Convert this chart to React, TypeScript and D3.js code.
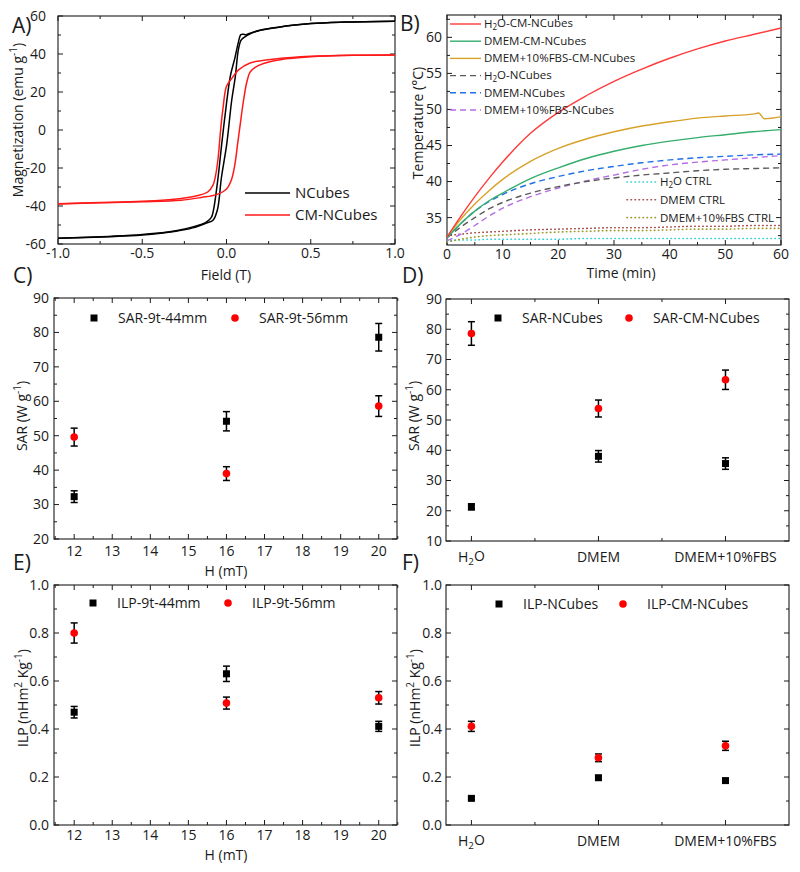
import React from 'react';
import * as d3 from 'd3';

const FONT = '"Open Sans", "DejaVu Sans", sans-serif';
const INK = '#1a1a1a';

// ---- A) hysteresis loops, [field (T), magnetization (emu/g)]
const ncubesDown: [number, number][] = [
  [1, 57.3], [0.7, 56.8], [0.5, 56], [0.3, 54], [0.2, 52.5], [0.14, 51], [0.115, 50.1], [0.1, 50.4],
  [0.085, 50.2], [0.07, 46], [0.05, 38], [0.022, 28], [0, 14], [-0.028, -7], [-0.05, -25],
  [-0.077, -42], [-0.09, -46], [-0.12, -48.5], [-0.2, -51], [-0.3, -53], [-0.5, -55], [-0.7, -56], [-1, -57],
];
const ncubesUp: [number, number][] = [
  [-1, -57], [-0.7, -56.2], [-0.5, -55.3], [-0.3, -53.3], [-0.2, -51.5], [-0.12, -49], [-0.08, -47.5],
  [-0.054, -42], [-0.03, -25], [0.002, -7], [0.03, 15], [0.052, 28], [0.07, 42], [0.085, 47],
  [0.1, 48.5], [0.15, 51], [0.2, 52.5], [0.3, 54], [0.5, 56], [0.7, 56.8], [1, 57.3],
];
const cmDown: [number, number][] = [
  [1, 39.5], [0.75, 39.4], [0.5, 38.8], [0.3, 37.5], [0.14, 35.3], [0.07, 31.5], [0.03, 27], [0, 23],
  [-0.02, 12], [-0.035, 0], [-0.05, -15], [-0.065, -24], [-0.08, -29], [-0.11, -32.5], [-0.17, -34.5],
  [-0.27, -36], [-0.5, -37.5], [-0.75, -38.2], [-1, -38.8],
];
const cmUp: [number, number][] = [
  [-1, -39], [-0.75, -38.3], [-0.5, -37.8], [-0.27, -37], [-0.15, -35.5], [-0.06, -34], [0, -31],
  [0.03, -26], [0.05, -18], [0.065, -8], [0.08, 2], [0.1, 15], [0.12, 25], [0.14, 30.5], [0.17, 33],
  [0.22, 35], [0.32, 37], [0.5, 38.5], [0.75, 39.3], [1, 39.5],
];

// ---- B) heating curves, temperature (°C) vs time (min)
const heatTime = [0, 2.5, 5, 7.5, 10, 15, 20, 25, 30, 35, 40, 45, 50, 55, 60];
const goldTime = [0, 2.5, 5, 7.5, 10, 15, 20, 25, 30, 35, 40, 45, 50, 55, 56, 57, 60];
const h2oCM = [32.3, 35.2, 37.9, 40.4, 42.7, 46.7, 49.6, 51.9, 53.9, 55.6, 57.1, 58.4, 59.5, 60.4, 61.3];
const dmemCM = [32.2, 34.2, 35.9, 37.3, 38.4, 40.4, 41.9, 43.2, 44.2, 45.0, 45.6, 46.1, 46.5, 46.9, 47.2];
const fbsCM = [32.3, 34.8, 36.9, 38.7, 40.3, 42.8, 44.6, 45.9, 46.9, 47.7, 48.3, 48.8, 49.1, 49.35, 49.5, 48.7, 49.0];
const h2oN = [32.2, 33.7, 35.0, 36.2, 37.1, 38.4, 39.3, 40.0, 40.5, 40.9, 41.2, 41.5, 41.7, 41.8, 41.9];
const dmemN = [32.2, 34.2, 35.9, 37.2, 38.2, 39.7, 40.7, 41.5, 42.1, 42.6, 43.0, 43.3, 43.5, 43.7, 43.8];
const fbsN = [31.8, 32.7, 33.9, 35.2, 36.3, 37.9, 39.1, 40.1, 40.9, 41.7, 42.3, 42.7, 43.0, 43.3, 43.6];
const h2oCtrl = [31.8, 31.9, 31.9, 32.0, 32.0, 32.0, 32.0, 32.1, 32.1, 32.1, 32.1, 32.1, 32.1, 32.1, 32.1];
const dmemCtrl = [32.5, 32.7, 32.9, 33.0, 33.1, 33.3, 33.4, 33.5, 33.6, 33.6, 33.7, 33.8, 33.8, 33.9, 33.9];
const fbsCtrl = [31.6, 32.0, 32.3, 32.5, 32.6, 32.8, 33.0, 33.1, 33.2, 33.2, 33.3, 33.4, 33.4, 33.5, 33.5];

// ---- C, E) vs field amplitude
const fieldH = [12, 16, 20];
const sar44 = [32.3, 54.2, 78.6];
const sar44Err = [1.7, 2.8, 4.0];
const sar56 = [49.6, 39.0, 58.6];
const sar56Err = [2.6, 2.0, 3.0];
const ilp44 = [0.47, 0.63, 0.411];
const ilp44Err = [0.024, 0.032, 0.021];
const ilp56 = [0.8, 0.508, 0.53];
const ilp56Err = [0.042, 0.025, 0.026];

// ---- D, F) vs medium
const media = ['H2O', 'DMEM', 'DMEM+10%FBS'];
const sarN = [21.3, 38.0, 35.6];
const sarNErr = [1.0, 1.9, 1.9];
const sarCM = [78.6, 53.8, 63.3];
const sarCMErr = [3.9, 2.8, 3.2];
const ilpN = [0.111, 0.197, 0.185];
const ilpNErr = [0.006, 0.008, 0.008];
const ilpCM = [0.411, 0.28, 0.33];
const ilpCMErr = [0.021, 0.016, 0.019];

type Lin = d3.ScaleLinear<number, number>;

const steps = (a: number, b: number, s: number) => d3.range(a, b + s / 2, s);

// H2O with subscript
const Sub2 = ({ text }: { text: string }) => {
  if (!text.startsWith('H2O')) return <>{text}</>;
  return (
    <>
      <tspan>H</tspan>
      <tspan fontSize="0.7em" dy="0.3em">2</tspan>
      <tspan dy="-0.3em">{text.slice(2)}</tspan>
    </>
  );
};

function Frame({ x, y, xMajor, xMinor, yMajor, yMinor, xFmt, yFmt, xLabelY, yGap = 6, xText }: {
  x: Lin; y: Lin; xMajor: number[]; xMinor: number[]; yMajor: number[]; yMinor: number[];
  xFmt?: (v: number) => string; yFmt: (v: number) => string; xLabelY: number; yGap?: number;
  xText?: string[];
}) {
  const [l, r] = x.range();
  const [b, t] = y.range();
  return (
    <g>
      <rect x={l} y={t} width={r - l} height={b - t} fill="none" stroke={INK} strokeWidth={1.1} />
      <g stroke={INK} strokeWidth={1}>
        {xMajor.map((v) => (
          <g key={'xa' + v}>
            <line x1={x(v)} x2={x(v)} y1={b} y2={b - 5} />
            <line x1={x(v)} x2={x(v)} y1={t} y2={t + 5} />
          </g>
        ))}
        {xMinor.map((v) => (
          <g key={'xi' + v}>
            <line x1={x(v)} x2={x(v)} y1={b} y2={b - 3} />
            <line x1={x(v)} x2={x(v)} y1={t} y2={t + 3} />
          </g>
        ))}
        {yMajor.map((v) => (
          <g key={'ya' + v}>
            <line x1={l} x2={l + 5} y1={y(v)} y2={y(v)} />
            <line x1={r} x2={r - 5} y1={y(v)} y2={y(v)} />
          </g>
        ))}
        {yMinor.map((v) => (
          <g key={'yi' + v}>
            <line x1={l} x2={l + 3} y1={y(v)} y2={y(v)} />
            <line x1={r} x2={r - 3} y1={y(v)} y2={y(v)} />
          </g>
        ))}
      </g>
      {xFmt && xMajor.map((v) => (
        <text key={'xl' + v} x={x(v)} y={xLabelY} textAnchor="middle" fontSize={14}>{xFmt(v)}</text>
      ))}
      {xText && xText.map((s, i) => (
        <text key={'xt' + i} x={x(i)} y={xLabelY} textAnchor="middle" fontSize={14}><Sub2 text={s} /></text>
      ))}
      {yMajor.map((v) => (
        <text key={'yl' + v} x={l - yGap} y={y(v)} dy="0.35em" textAnchor="end" fontSize={14}>{yFmt(v)}</text>
      ))}
    </g>
  );
}

function Points({ x, y, xs, vals, errs, kind }: {
  x: Lin; y: Lin; xs: number[]; vals: number[]; errs: number[]; kind: 'sq' | 'ci';
}) {
  return (
    <g>
      {xs.map((xv, i) => {
        const cx = x(xv);
        const top = y(vals[i] + errs[i]);
        const bot = y(vals[i] - errs[i]);
        return (
          <g key={'e' + i} stroke="#000" strokeWidth={1.5}>
            <line x1={cx} x2={cx} y1={top} y2={bot} />
            <line x1={cx - 3.5} x2={cx + 3.5} y1={top} y2={top} />
            <line x1={cx - 3.5} x2={cx + 3.5} y1={bot} y2={bot} />
          </g>
        );
      })}
      {xs.map((xv, i) =>
        kind === 'sq' ? (
          <rect key={'m' + i} x={x(xv) - 3.5} y={y(vals[i]) - 3.5} width={7} height={7} fill="#000" />
        ) : (
          <circle key={'m' + i} cx={x(xv)} cy={y(vals[i])} r={3.8} fill="#ff0000" />
        )
      )}
    </g>
  );
}

function PointLegend({ y, sqX, ciX, a, b }: { y: number; sqX: number; ciX: number; a: string; b: string }) {
  return (
    <g fontSize={14}>
      <rect x={sqX - 3.5} y={y - 3.5} width={7} height={7} fill="#000" />
      <text x={sqX + 24} y={y} dy="0.35em">{a}</text>
      <circle cx={ciX} cy={y} r={3.8} fill="#ff0000" />
      <text x={ciX + 24} y={y} dy="0.35em">{b}</text>
    </g>
  );
}

const YTitle = ({ x, y, children }: { x: number; y: number; children: React.ReactNode }) => (
  <text transform={`translate(${x},${y}) rotate(-90)`} textAnchor="middle" fontSize={14}>{children}</text>
);

const PanelTag = ({ x, y, t }: { x: number; y: number; t: string }) => (
  <text x={x} y={y} fontSize={21}>{t}</text>
);

export default function App() {
  // A
  const xA = d3.scaleLinear().domain([-1, 1]).range([58, 395]);
  const yA = d3.scaleLinear().domain([-60, 60]).range([244, 16]);
  const loop = d3.line<[number, number]>().x((d) => xA(d[0])).y((d) => yA(d[1])).curve(d3.curveCatmullRom.alpha(0.5));

  // B
  const xB = d3.scaleLinear().domain([0, 60]).range([447, 781]);
  const yB = d3.scaleLinear().domain([31.2, 63.1]).range([245, 15]);
  const heat = (ts: number[], vs: number[]) =>
    d3.line<number>().x((_, i) => xB(ts[i])).y((v) => yB(v)).curve(d3.curveMonotoneX)(vs) || '';
  const heatSeries = [
    { name: 'H2O-CM-NCubes', ts: heatTime, vs: h2oCM, color: '#ff3b3b', dash: undefined as string | undefined },
    { name: 'DMEM-CM-NCubes', ts: heatTime, vs: dmemCM, color: '#35ad6c', dash: undefined },
    { name: 'DMEM+10%FBS-CM-NCubes', ts: goldTime, vs: fbsCM, color: '#d8a22a', dash: undefined },
    { name: 'H2O-NCubes', ts: heatTime, vs: h2oN, color: '#5a5a5a', dash: '6,4' },
    { name: 'DMEM-NCubes', ts: heatTime, vs: dmemN, color: '#1f6fe8', dash: '6,4' },
    { name: 'DMEM+10%FBS-NCubes', ts: heatTime, vs: fbsN, color: '#b46ce6', dash: '6,4' },
  ];
  const ctrlSeries = [
    { name: 'H2O CTRL', vs: h2oCtrl, color: '#2fd0d6' },
    { name: 'DMEM CTRL', vs: dmemCtrl, color: '#a34c4c' },
    { name: 'DMEM+10%FBS CTRL', vs: fbsCtrl, color: '#9c9a2c' },
  ];

  // C / E
  const xC = d3.scaleLinear().domain([11.47, 20.48]).range([54, 397]);
  const yC = d3.scaleLinear().domain([20, 90]).range([539, 298]);
  const yE = d3.scaleLinear().domain([0, 1]).range([825, 585]);
  // D / F
  const xD = d3.scaleLinear().domain([-0.2, 2.5]).range([446, 789]);
  const yD = d3.scaleLinear().domain([10, 90]).range([541, 299]);
  const yF = d3.scaleLinear().domain([0, 1]).range([825, 585]);
  const mediaIdx = media.map((_, i) => i);

  const f1 = (v: number) => v.toFixed(1);
  const f0 = (v: number) => String(Math.round(v));

  return (
    <svg width={800} height={872} fontFamily={FONT} fill={INK}
      style={{ position: 'absolute', left: 0, top: 0, background: '#fff', display: 'block' }}>
      {/* ---------- A ---------- */}
      <PanelTag x={12} y={33} t="A)" />
      <Frame x={xA} y={yA} xMajor={steps(-1, 1, 0.5)} xMinor={steps(-0.75, 0.75, 0.5)}
        yMajor={steps(-60, 60, 20)} yMinor={steps(-50, 50, 20)} xFmt={f1} yFmt={f0} xLabelY={258} yGap={12} />
      <path d={loop(ncubesDown) || ''} fill="none" stroke="#000" strokeWidth={1.5} />
      <path d={loop(ncubesUp) || ''} fill="none" stroke="#000" strokeWidth={1.5} />
      <path d={loop(cmDown) || ''} fill="none" stroke="#ff1a1a" strokeWidth={1.5} />
      <path d={loop(cmUp) || ''} fill="none" stroke="#ff1a1a" strokeWidth={1.5} />
      <g fontSize={15}>
        <line x1={245} x2={290} y1={193} y2={193} stroke="#000" strokeWidth={1.5} />
        <text x={295} y={193} dy="0.35em">NCubes</text>
        <line x1={245} x2={290} y1={215} y2={215} stroke="#ff1a1a" strokeWidth={1.5} />
        <text x={295} y={215} dy="0.35em">CM-NCubes</text>
      </g>
      <text x={226} y={280} textAnchor="middle" fontSize={14}>Field (T)</text>
      <YTitle x={23} y={120}>
        <tspan>Magnetization (emu g</tspan><tspan fontSize={10} dy={-6}>-1</tspan><tspan dy={6}>)</tspan>
      </YTitle>

      {/* ---------- B ---------- */}
      <PanelTag x={400} y={31} t="B)" />
      <Frame x={xB} y={yB} xMajor={steps(0, 60, 10)} xMinor={steps(5, 55, 10)}
        yMajor={steps(35, 60, 5)} yMinor={steps(32.5, 62.5, 5)} xFmt={f0} yFmt={f0} xLabelY={259} yGap={5} />
      <g fill="none" strokeLinecap="round">
        {ctrlSeries.map((s) => (
          <path key={s.name} d={heat(heatTime, s.vs)} stroke={s.color} strokeWidth={1.6} strokeDasharray="0.5,3.5" />
        ))}
        {heatSeries.slice().reverse().map((s) => (
          <path key={s.name} d={heat(s.ts, s.vs)} stroke={s.color} strokeWidth={1.4} strokeDasharray={s.dash}
            strokeLinecap="butt" />
        ))}
      </g>
      <g fontSize={11.5}>
        {heatSeries.map((s, i) => {
          const ly = 24 + i * 17.2;
          return (
            <g key={s.name}>
              <line x1={450} x2={481} y1={ly} y2={ly} stroke={s.color} strokeWidth={1.4} strokeDasharray={s.dash} />
              <text x={484} y={ly} dy="0.35em"><Sub2 text={s.name} /></text>
            </g>
          );
        })}
        {ctrlSeries.map((s, i) => {
          const ly = 182 + i * 17.8;
          return (
            <g key={s.name}>
              <line x1={627} x2={656} y1={ly} y2={ly} stroke={s.color} strokeWidth={1.6} strokeDasharray="0.5,3.5"
                strokeLinecap="round" />
              <text x={660} y={ly} dy="0.35em"><Sub2 text={s.name} /></text>
            </g>
          );
        })}
      </g>
      <text x={621} y={278} textAnchor="middle" fontSize={14}>Time (min)</text>
      <YTitle x={423} y={123}>Temperature (°C)</YTitle>

      {/* ---------- C ---------- */}
      <PanelTag x={13} y={283} t="C)" />
      <Frame x={xC} y={yC} xMajor={steps(12, 20, 1)} xMinor={steps(11.5, 20.5, 1)}
        yMajor={steps(20, 90, 10)} yMinor={steps(25, 85, 10)} xFmt={f0} yFmt={f0} xLabelY={556} yGap={5} />
      <Points x={xC} y={yC} xs={fieldH} vals={sar44} errs={sar44Err} kind="sq" />
      <Points x={xC} y={yC} xs={fieldH} vals={sar56} errs={sar56Err} kind="ci" />
      <PointLegend y={318} sqX={94} ciX={235} a="SAR-9t-44mm" b="SAR-9t-56mm" />
      <text x={226} y={576} textAnchor="middle" fontSize={14}>H (mT)</text>
      <YTitle x={26.5} y={416}>
        <tspan>SAR (W g</tspan><tspan fontSize={10} dy={-6}>-1</tspan><tspan dy={6}>)</tspan>
      </YTitle>

      {/* ---------- D ---------- */}
      <PanelTag x={402} y={283} t="D)" />
      <Frame x={xD} y={yD} xMajor={steps(0, 2, 1)} xMinor={steps(0.5, 1.5, 1)}
        yMajor={steps(10, 90, 10)} yMinor={steps(15, 85, 10)} yFmt={f0} xLabelY={562} yGap={4} xText={media} />
      <Points x={xD} y={yD} xs={mediaIdx} vals={sarN} errs={sarNErr} kind="sq" />
      <Points x={xD} y={yD} xs={mediaIdx} vals={sarCM} errs={sarCMErr} kind="ci" />
      <PointLegend y={318} sqX={498} ciX={629} a="SAR-NCubes" b="SAR-CM-NCubes" />
      <YTitle x={418.5} y={416}>
        <tspan>SAR (W g</tspan><tspan fontSize={10} dy={-6}>-1</tspan><tspan dy={6}>)</tspan>
      </YTitle>

      {/* ---------- E ---------- */}
      <PanelTag x={13} y={570} t="E)" />
      <Frame x={xC} y={yE} xMajor={steps(12, 20, 1)} xMinor={steps(11.5, 20.5, 1)}
        yMajor={steps(0, 1, 0.2)} yMinor={steps(0.1, 0.9, 0.2)} xFmt={f0} yFmt={f1} xLabelY={840} yGap={5} />
      <Points x={xC} y={yE} xs={fieldH} vals={ilp44} errs={ilp44Err} kind="sq" />
      <Points x={xC} y={yE} xs={fieldH} vals={ilp56} errs={ilp56Err} kind="ci" />
      <PointLegend y={603} sqX={93} ciX={228} a="ILP-9t-44mm" b="ILP-9t-56mm" />
      <text x={226} y={860} textAnchor="middle" fontSize={14}>H (mT)</text>
      <YTitle x={28} y={698}>
        <tspan>ILP (nHm</tspan><tspan fontSize={10} dy={-6}>2</tspan><tspan dy={6}> Kg</tspan>
        <tspan fontSize={10} dy={-6}>-1</tspan><tspan dy={6}>)</tspan>
      </YTitle>

      {/* ---------- F ---------- */}
      <PanelTag x={402} y={570} t="F)" />
      <Frame x={xD} y={yF} xMajor={steps(0, 2, 1)} xMinor={steps(0.5, 1.5, 1)}
        yMajor={steps(0, 1, 0.2)} yMinor={steps(0.1, 0.9, 0.2)} yFmt={f1} xLabelY={846} yGap={4} xText={media} />
      <Points x={xD} y={yF} xs={mediaIdx} vals={ilpN} errs={ilpNErr} kind="sq" />
      <Points x={xD} y={yF} xs={mediaIdx} vals={ilpCM} errs={ilpCMErr} kind="ci" />
      <PointLegend y={604} sqX={499} ciX={623} a="ILP-NCubes" b="ILP-CM-NCubes" />
      <YTitle x={420} y={698}>
        <tspan>ILP (nHm</tspan><tspan fontSize={10} dy={-6}>2</tspan><tspan dy={6}> Kg</tspan>
        <tspan fontSize={10} dy={-6}>-1</tspan><tspan dy={6}>)</tspan>
      </YTitle>
    </svg>
  );
}
